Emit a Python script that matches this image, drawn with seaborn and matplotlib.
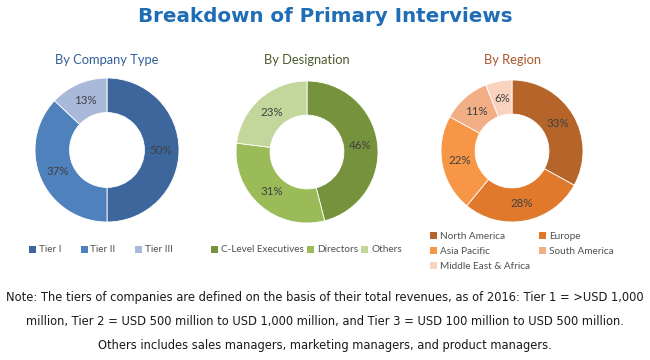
import matplotlib
matplotlib.use("Agg")
import matplotlib.pyplot as plt
import seaborn as sns
import numpy as np
from matplotlib.patches import Patch

# ---- data ----
company_labels = ["Tier I", "Tier II", "Tier III"]
company_values = [50, 37, 13]
designation_labels = ["C-Level Executives", "Directors", "Others"]
designation_values = [46, 31, 23]
region_labels = ["North America", "Europe", "Asia Pacific", "South America", "Middle East & Africa"]
region_values = [33, 28, 22, 11, 6]

title = "Breakdown of Primary Interviews"
sub_titles = ["By Company Type", "By Designation", "By Region"]
note_lines = [
    "Note: The tiers of companies are defined on the basis of their total revenues, as of 2016: Tier 1 = >USD 1,000",
    "million, Tier 2 = USD 500 million to USD 1,000 million, and Tier 3 = USD 100 million to USD 500 million.",
    "Others includes sales managers, marketing managers, and product managers.",
]

# ---- style ----
sns.set_theme(style="white")
plt.rcParams["font.family"] = ["DejaVu Sans"]
LATO = ["Lato", "DejaVu Sans"]

company_colors = sns.color_palette(["#3d679c", "#4f81bd", "#a8b9d9"])
designation_colors = sns.color_palette(["#76923c", "#9bbb59", "#c3d69b"])
region_colors = sns.color_palette(["#b5652a", "#e0792c", "#f79646", "#f2ae85", "#f9d3bd"])

W, H = 650, 360
fig = plt.figure(figsize=(W / 100, H / 100), dpi=100)
fig.patch.set_facecolor("white")

def donut(cx, cy, r, values, colors, subtitle, sub_color):
    ax = fig.add_axes([(cx - r) / W, 1 - (cy + r) / H, 2 * r / W, 2 * r / H])
    ax.pie(values, colors=colors, startangle=90, counterclock=False,
           radius=1, wedgeprops=dict(width=0.48, edgecolor="white", linewidth=0.6))
    cum = 0
    for v in values:
        ang = np.deg2rad(90 - (cum + v / 2) * 3.6)
        ax.text(0.75 * np.cos(ang), 0.75 * np.sin(ang), f"{v}%", ha="center", va="center",
                fontsize=8.3, color="#404040", family=LATO)
        cum += v
    ax.set_xlim(-1, 1)
    ax.set_ylim(-1, 1)
    ax.set_aspect("equal")
    ax.axis("off")
    fig.text(cx / W, 1 - 60 / H, subtitle, ha="center", va="center", fontsize=9.3,
             color=sub_color, family=LATO)
    return ax

donut(107, 150, 72, company_values, company_colors, sub_titles[0], "#2f5f98")
donut(307, 152, 71, designation_values, designation_colors, sub_titles[1], "#4d5a2c")
donut(512, 151, 71, region_values, region_colors, sub_titles[2], "#a9582a")

fig.text(0.5, 1 - 17 / H, title, ha="center", va="center", fontsize=14.3, fontweight="bold",
         color="#1f6db5")

leg_kw = dict(frameon=False, prop=dict(family=LATO, size=7.2), labelcolor="#505050",
              handlelength=0.7, handleheight=0.7, handletextpad=0.3, borderpad=0,
              borderaxespad=0)

h1 = [Patch(facecolor=c, edgecolor="none") for c in company_colors]
fig.legend(h1, company_labels, loc="center left", bbox_to_anchor=(29 / W, 1 - 250 / H),
           ncol=3, columnspacing=1.9, **leg_kw)

h2 = [Patch(facecolor=c, edgecolor="none") for c in designation_colors]
fig.legend(h2, designation_labels, loc="center left", bbox_to_anchor=(211 / W, 1 - 250 / H),
           ncol=3, columnspacing=0.3, **leg_kw)

order = [0, 2, 4, 1, 3]
h3 = [Patch(facecolor=region_colors[i], edgecolor="none") for i in order]
fig.legend(h3, [region_labels[i] for i in order], loc="upper left",
           bbox_to_anchor=(430 / W, 1 - 232 / H), ncol=2, columnspacing=0.9,
           labelspacing=0.62, **leg_kw)

note_y = [297, 322, 346]
for y, line in zip(note_y, note_lines):
    fig.text(0.5, 1 - y / H, line, ha="center", va="center", fontsize=8.3,
             family=["Liberation Sans Narrow", "DejaVu Sans"], color="#1a1a1a")

fig.savefig("out.png", dpi=100, facecolor="white")
